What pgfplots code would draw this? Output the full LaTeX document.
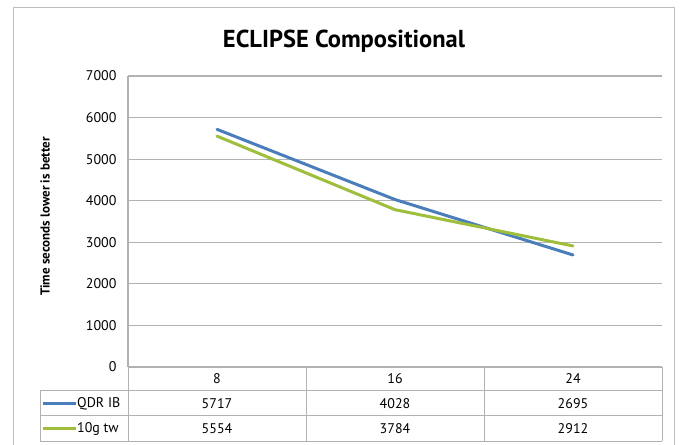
\documentclass[border=0pt]{standalone}
\usepackage{pgfplots}
\pgfplotsset{compat=1.18}
\usepackage{fontspec}
\setmainfont{PT Sans}
\definecolor{qdr}{RGB}{74,126,187}
\definecolor{tw}{RGB}{158,190,60}
\definecolor{gridc}{RGB}{178,178,178}
\definecolor{framec}{RGB}{190,190,190}
\begin{document}
\begin{tikzpicture}[x=1pt,y=1pt]
\useasboundingbox (0,0) rectangle (682,444);
% outer frame
\draw[framec, line width=1pt] (13,-5) -- (13,436) -- (674,436) -- (674,-5);
% title
\node[font=\fontsize{24.5}{28}\selectfont\bfseries] at (344,403) {ECLIPSE Compositional};
% y label
\node[rotate=90, font=\fontsize{13}{15}\selectfont\bfseries] at (45,227.5) {Time seconds lower is better};
\begin{axis}[
  at={(128pt,77pt)}, anchor=south west,
  scale only axis, width=534pt, height=291pt,
  xmin=-0.5, xmax=2.5, ymin=0, ymax=7000,
  xtick={0,1,2}, xticklabels={8,16,24},
  ytick={0,1000,...,7000},
  major tick length=0pt,
  ymajorgrids, grid style={gridc, line width=1.2pt},
  axis x line=none,
  axis y line*=left,
  axis line style={gridc, line width=1.2pt, -},
  ticklabel style={font=\fontsize{14}{16}\selectfont},
  yticklabel style={anchor=east, xshift=-8pt},
  /pgf/number format/assume math mode=true,
  /pgf/number format/1000 sep={},
  clip=false,
]
\addplot[qdr, line width=3pt, line cap=round, line join=round] coordinates {(0,5717) (1,4028) (2,2695)};
\addplot[tw, line width=3pt, line cap=round, line join=round] coordinates {(0,5554) (1,3784) (2,2912)};
\end{axis}
% data table
\begin{scope}[font=\fontsize{14}{16}\selectfont]
\draw[gridc, line width=1pt] (128,77) -- (662,77);
\draw[gridc, line width=1pt] (40,53) -- (662,53);
\draw[gridc, line width=1pt] (40,28) -- (662,28);
\draw[gridc, line width=1pt] (40,3) -- (662,3);
\draw[gridc, line width=1pt] (40,53) -- (40,3);
\foreach \xx in {128,306,484,662} \draw[gridc, line width=1pt] (\xx,77) -- (\xx,3);
\node at (217,65) {8};
\node at (395,65) {16};
\node at (573,65) {24};
\draw[qdr, line width=2.5pt] (43,40.5) -- (76,40.5);
\node[anchor=west, inner sep=1pt] at (76,40.5) {QDR IB};
\draw[tw, line width=2.5pt] (43,15.5) -- (76,15.5);
\node[anchor=west, inner sep=1pt] at (76,15.5) {10g tw};
\node at (217,40.5) {5717};
\node at (395,40.5) {4028};
\node at (573,40.5) {2695};
\node at (217,15.5) {5554};
\node at (395,15.5) {3784};
\node at (573,15.5) {2912};
\end{scope}
\end{tikzpicture}
\end{document}
